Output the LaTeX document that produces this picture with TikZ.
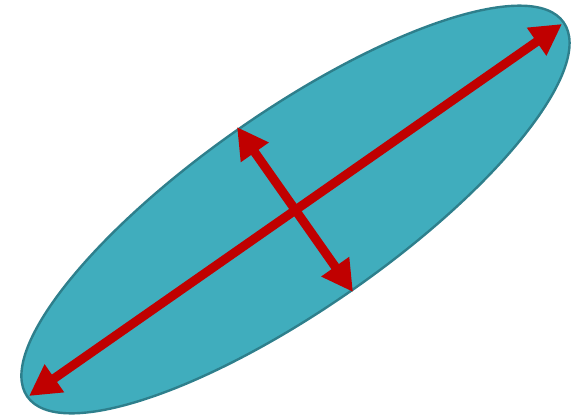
\documentclass[tikz,border=0pt]{standalone}
\usetikzlibrary{arrows.meta}
\definecolor{tealfill}{HTML}{40ADBD}
\definecolor{tealedge}{HTML}{2E7F8C}
\definecolor{axisred}{HTML}{C00000}
\tikzset{
  blob/.style={fill=tealfill, draw=tealedge, line width=2.4pt},
  axisarrow/.style={draw=axisred, line width=9pt,
    {Triangle[length=31pt,width=32pt]}-{Triangle[length=31pt,width=32pt]}, shorten <=0pt, shorten >=0pt}
}
\begin{document}
\begin{tikzpicture}[x=1pt,y=-1pt]
\useasboundingbox (0,0) rectangle (580,416);
\coordinate (c) at (295.5,209.5);
\draw[blob, rotate around={34.9:(c)}] (c) ellipse [x radius=327, y radius=98.5];
\coordinate (majA) at (29,396);
\coordinate (majB) at (562,24);
\coordinate (minA) at (237,127);
\coordinate (minB) at (353,292);
\draw[axisarrow] (majA) -- (majB);
\draw[axisarrow] (minA) -- (minB);
\end{tikzpicture}
\end{document}
